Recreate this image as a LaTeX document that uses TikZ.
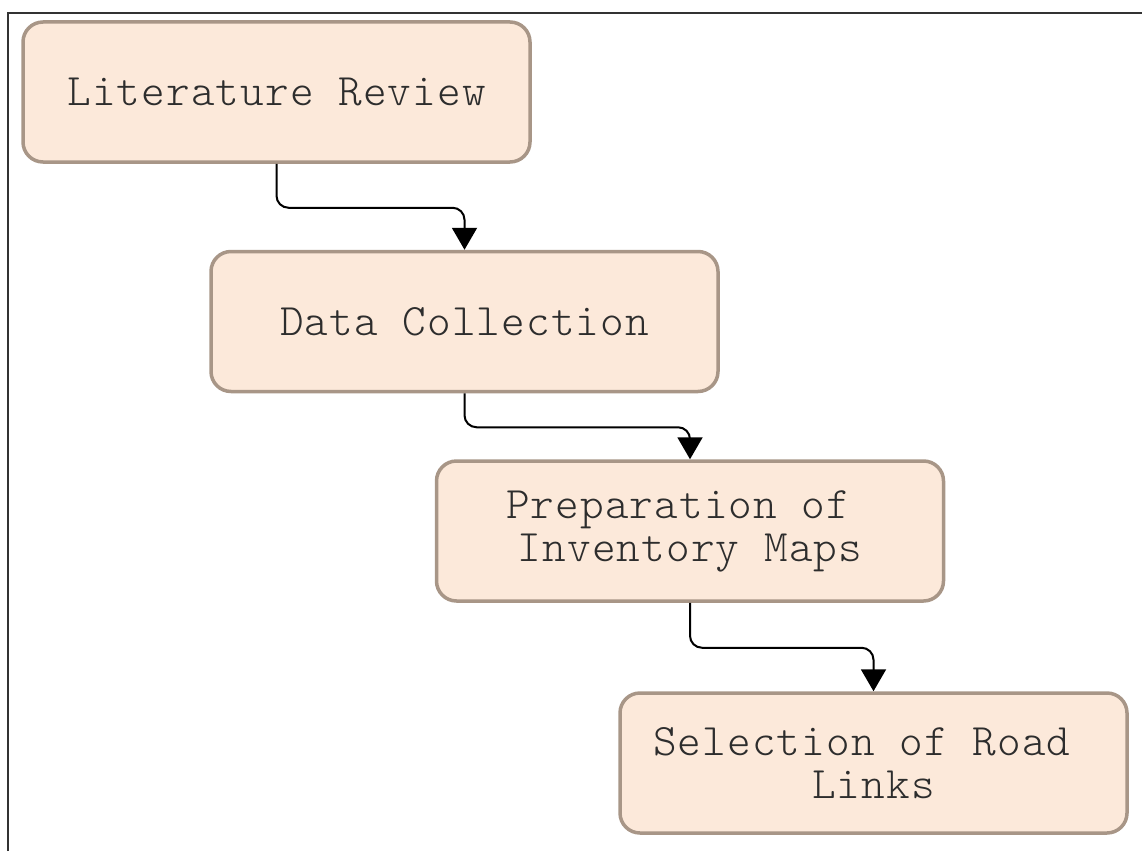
\documentclass[tikz,border=0pt]{standalone}
\usepackage{fontspec}
\usepackage{tikz}
\usetikzlibrary{arrows.meta}
\newfontfamily\stagefont{lmmonolt10-regular.otf}[LetterSpace=2.5]
\definecolor{boxfill}{RGB}{252,233,218}
\definecolor{boxline}{RGB}{168,150,135}
\definecolor{textgray}{RGB}{45,45,45}

\begin{document}
\begin{tikzpicture}[x=1pt,y=-1pt,
    stage/.style={draw=boxline,fill=boxfill,line width=3.5pt,rounded corners=20pt,
      minimum width=507pt,minimum height=140pt,align=center,text=textgray,
      font=\stagefont\fontsize{45}{43}\selectfont},
    flow/.style={line width=2pt,rounded corners=12pt,
      -{Triangle[width=25pt,length=22pt]}}]
      %%% page and the frame (top and left only)
      \useasboundingbox (0,0) rectangle (1142,851);
      \draw[line width=2.5pt,black!80] (8,851) -- (8,13) -- (1142,13);
      %% the stages, stepping down to the right
      \node[stage] (lit)  at (276.5,92)  {Literature Review};
      \node[stage] (data) at (464.5,321.5) {Data Collection};
      \node[stage] (maps) at (690,531)   {Preparation of\hspace*{.525em}\\Inventory Maps};
      \node[stage] (road) at (873.5,763) {Selection of Road\hspace*{.525em}\\Links};
      %% connectors: down, across, down
      \draw[flow] (lit.south)  -- ++(0,44) -| (data.north);
      \draw[flow] (data.south) -- ++(0,34) -| (maps.north);
      \draw[flow] (maps.south) -- ++(0,45) -| (road.north);
\end{tikzpicture}
\end{document}
